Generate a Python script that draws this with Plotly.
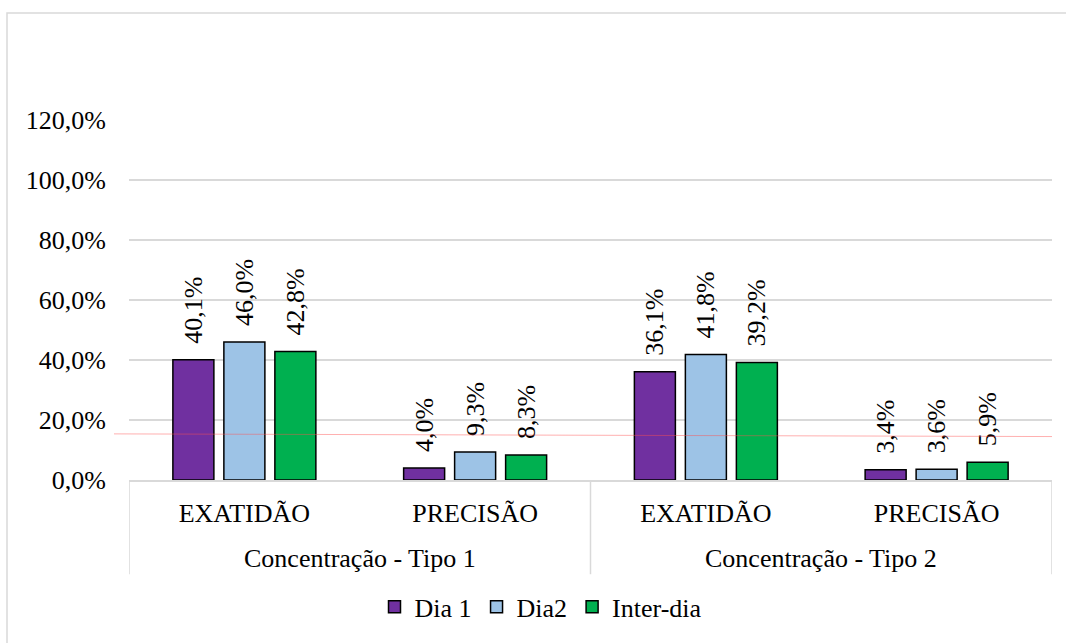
import plotly.graph_objects as go

# Categories: outer group (concentration type) and inner group (parameter)
grupos = ["Concentração - Tipo 1", "Concentração - Tipo 1",
          "Concentração - Tipo 2", "Concentração - Tipo 2"]
parametros = ["EXATIDÃO", "PRECISÃO", "EXATIDÃO", "PRECISÃO"]

# Series values (fractions)
dia1 = [0.401, 0.040, 0.361, 0.034]
dia2 = [0.460, 0.093, 0.418, 0.036]
inter_dia = [0.428, 0.083, 0.392, 0.059]

series = [
    ("Dia 1", dia1, "#7030A0"),
    ("Dia2", dia2, "#9DC3E6"),
    ("Inter-dia", inter_dia, "#00B050"),
]

FONT = "Liberation Serif"
W, H = 1066, 643
ML, MR, MT, MB = 129, 14, 120, 160
PW = W - ML - MR
PH = H - MT - MB


def px_x(p):
    return (p - ML) / PW


def px_y(p):
    return (H - MB - p) / PH


def pct_label(v):
    return "\u00a0\u00a0" + f"{v * 100:.1f}".replace(".", ",") + "%"


pos = list(range(len(parametros)))

fig = go.Figure()
for name, vals, color in series:
    fig.add_trace(go.Bar(
        name=name,
        x=pos,
        y=vals,
        marker=dict(color=color, line=dict(color="#000000", width=1.5)),
        text=[pct_label(v) for v in vals],
        textposition="outside",
        textangle=-90,
        constraintext="none",
        textfont=dict(family=FONT, size=26, color="#000000"),
        cliponaxis=False,
    ))

# Group labels under the parameter labels, with divider lines between groups
unique_groups = list(dict.fromkeys(grupos))
bounds = [-0.5]
for g in unique_groups:
    idx = [i for i, gg in enumerate(grupos) if gg == g]
    fig.add_annotation(
        x=sum(idx) / len(idx), xref="x", y=px_y(562), yref="paper",
        text=g, showarrow=False, yanchor="middle",
        font=dict(family=FONT, size=26, color="#000000"),
    )
    bounds.append(max(idx) + 0.5)
for b in bounds:
    fig.add_shape(type="line", xref="x", yref="paper",
                  x0=b, x1=b, y0=0, y1=px_y(578),
                  line=dict(color="#D9D9D9", width=1.5))

# Outer chart border and thin red reference line
fig.add_shape(type="rect", xref="paper", yref="paper",
              x0=px_x(7), x1=px_x(1075), y0=px_y(655), y1=px_y(12),
              line=dict(color="#D9D9D9", width=1.5), layer="below")
fig.add_shape(type="line", xref="paper", yref="paper",
              x0=px_x(114), x1=px_x(1052), y0=px_y(436.5), y1=px_y(439.2),
              line=dict(color="rgba(255,80,80,0.45)", width=1), layer="above")

fig.update_layout(
    width=W, height=H,
    margin=dict(l=ML, r=MR, t=MT, b=MB),
    paper_bgcolor="white", plot_bgcolor="white",
    barmode="group", bargap=0.337, bargroupgap=0.196,
    separators=",.",
    font=dict(family=FONT, size=26, color="#000000"),
    showlegend=True,
    legend=dict(orientation="h", x=px_x(541), xanchor="center",
                y=px_y(611), yanchor="middle",
                font=dict(family=FONT, size=26, color="#000000"),
                itemwidth=30, tracegroupgap=0),
)

fig.update_xaxes(
    range=[-0.5, len(parametros) - 0.5],
    tickmode="array", tickvals=pos, ticktext=parametros,
    showline=True, linecolor="#D9D9D9", linewidth=1.5,
    showgrid=False, zeroline=False, ticks="",
    ticklabelstandoff=9,
    tickfont=dict(family=FONT, size=26, color="#000000"),
)
fig.update_yaxes(
    range=[0, 1.2], dtick=0.2, tickformat=".1%",
    showgrid=True, gridcolor="#D9D9D9", gridwidth=1.5,
    zeroline=False, showline=False, ticks="",
    ticklabelstandoff=22,
    tickfont=dict(family=FONT, size=26, color="#000000"),
)

fig.write_html("out.html")
